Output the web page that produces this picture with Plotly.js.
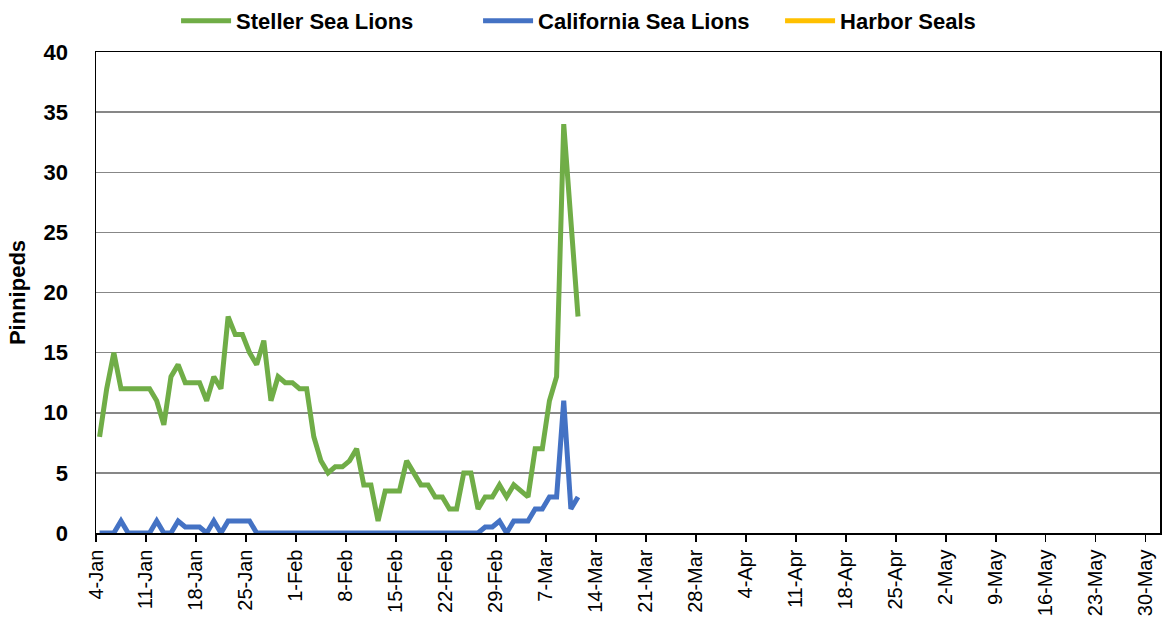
<!DOCTYPE html>
<html>
<head>
<meta charset="utf-8">
<script src="https://cdn.plot.ly/plotly-3.0.1.min.js"></script>
<style>
  html, body { margin: 0; padding: 0; background: #fff; }
  #chart { width: 1166px; height: 625px; }
</style>
</head>
<body>
<div id="chart"></div>
<script>
// Daily counts starting 4-Jan-2024 (one value per day)
const startDate = '2024-01-04';
const stellerSeaLions = [
  8, 12, 15, 12, 12, 12, 12, 12, 11, 9, 13, 14, 12.5, 12.5, 12.5, 11, 13, 12, 18, 16.5, 16.5, 15, 14, 16, 11, 13, 12.5, 12.5,
  12, 12, 8, 6, 5, 5.5, 5.5, 6, 7, 4, 4, 1, 3.5, 3.5, 3.5, 6, 5, 4, 4, 3, 3, 2, 2, 5, 5, 2, 3, 3, 4,
  3, 4, 3.5, 3, 7, 7, 11, 13, 34, 26, 18
];
const californiaSeaLions = [
  0, 0, 0, 1, 0, 0, 0, 0, 1, 0, 0, 1, 0.5, 0.5, 0.5, 0, 1, 0, 1, 1, 1, 1, 0, 0, 0, 0, 0, 0,
  0, 0, 0, 0, 0, 0, 0, 0, 0, 0, 0, 0, 0, 0, 0, 0, 0, 0, 0, 0, 0, 0, 0, 0, 0, 0, 0.5, 0.5, 1,
  0, 1, 1, 1, 2, 2, 3, 3, 11, 2, 3
];
// No harbor seal counts recorded in this period (legend entry only)
const harborSeals = [null];

const seriesNames = ['Steller Sea Lions', 'California Sea Lions', 'Harbor Seals'];
const seriesColors = ['#70AD47', '#4472C4', '#FFC000'];

// x positions: each daily value sits at the middle of its day (Excel "between tick marks")
function dayCenters(n) {
  const out = [];
  const d0 = new Date(startDate + 'T12:00:00Z');
  for (let i = 0; i < n; i++) {
    const d = new Date(d0.getTime() + i * 86400000);
    out.push(d.toISOString().slice(0, 19).replace('T', ' '));
  }
  return out;
}

const allSeries = [stellerSeaLions, californiaSeaLions, harborSeals];
const traces = allSeries.map((vals, k) => ({
  type: 'scatter',
  mode: 'lines',
  name: seriesNames[k],
  x: dayCenters(vals.length),
  y: vals,
  line: { color: seriesColors[k], width: 5 },
  showlegend: true
}));

const fontFamily = '"Liberation Sans", Arial, sans-serif';

const layout = {
  width: 1166,
  height: 625,
  margin: { l: 96, r: 6, t: 52, b: 92 },
  paper_bgcolor: '#ffffff',
  plot_bgcolor: '#ffffff',
  font: { family: fontFamily, color: '#000000' },
  showlegend: true,
  legend: {
    orientation: 'h',
    x: 0.151, xanchor: 'left', xref: 'container',
    y: 1, yanchor: 'top', yref: 'container',
    font: { family: fontFamily, size: 22, color: '#000000', weight: 'bold' },
    itemwidth: 50,
    entrywidth: 237,
    entrywidthmode: 'pixels',
    traceorder: 'normal',
    bgcolor: 'rgba(0,0,0,0)'
  },
  xaxis: {
    type: 'date',
    range: ['2024-01-04', '2024-06-01'],
    tick0: '2024-01-04',
    dtick: 7 * 86400000,
    tickformat: '%-d-%b',
    tickangle: -90,
    tickfont: { family: fontFamily, size: 20, color: '#000000' },
    ticks: 'outside',
    ticklen: 7,
    tickwidth: 1.5,
    tickcolor: '#000000',
    showline: true,
    linecolor: '#000000',
    linewidth: 1.5,
    mirror: true,
    showgrid: false,
    zeroline: false,
    fixedrange: true
  },
  yaxis: {
    range: [0, 40],
    tick0: 0,
    dtick: 5,
    tickfont: { family: fontFamily, size: 22, color: '#000000', weight: 'bold' },
    ticks: '',
    ticklabelstandoff: 22,
    showline: true,
    linecolor: '#000000',
    linewidth: 1.5,
    mirror: true,
    showgrid: true,
    gridcolor: '#878787',
    gridwidth: 1.5,
    zeroline: false,
    title: {
      text: 'Pinnipeds',
      font: { family: fontFamily, size: 22, color: '#000000', weight: 'bold' },
      standoff: 12
    },
    fixedrange: true
  }
};

Plotly.newPlot('chart', traces, layout, { displayModeBar: false, staticPlot: true });
</script>
</body>
</html>
